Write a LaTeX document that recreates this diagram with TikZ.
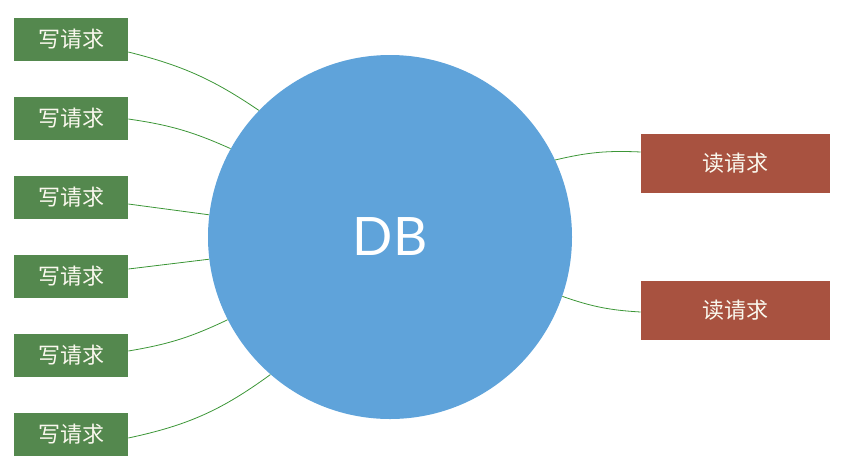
\documentclass[tikz,border=0pt]{standalone}
\usepackage{fontspec}
\setmainfont{Lato}
\newfontfamily\cjk{Noto Sans CJK SC}
\usetikzlibrary{positioning}
\definecolor{writegreen}{RGB}{84,136,78}
\definecolor{readred}{RGB}{168,82,64}
\definecolor{dbblue}{RGB}{95,163,218}
\definecolor{linkgreen}{RGB}{60,150,55}
\definecolor{labelwhite}{RGB}{250,248,238}

\begin{document}
\begin{tikzpicture}[x=1pt,y=-1pt,
    semithick,
    writebox/.style={rectangle,fill=writegreen,inner sep=0pt,
    minimum width=114pt,minimum height=43pt,text=labelwhite,font=\cjk\fontsize{22}{22}\selectfont},
    readbox/.style={rectangle,fill=readred,inner sep=0pt,
    minimum width=189pt,minimum height=59pt,text=labelwhite,font=\cjk\fontsize{22}{22}\selectfont},
    link/.style={draw=linkgreen,line width=0.8pt}
    ]
\useasboundingbox (0,0) rectangle (846,467);

\node[circle,fill=dbblue,inner sep=0pt,minimum size=364pt,text=white,
  font=\fontsize{53}{53}\selectfont] (DB) at (390,237) {DB};

\node[writebox] (W1) at (71,39.5) {写请求};
\node[writebox] (W2) at (71,118.5) {写请求};
\node[writebox] (W3) at (71,197.5) {写请求};
\node[writebox] (W4) at (71,276) {写请求};
\node[writebox] (W5) at (71,355.5) {写请求};
\node[writebox] (W6) at (71,434.5) {写请求};

\node[readbox] (R1) at (735.5,163.5) {读请求};
\node[readbox] (R2) at (735.5,310.5) {读请求};

\draw[link] ([yshift=-12.5pt]W1.east) to[bend left=10] (DB.136);
\draw[link] ([yshift=-0.5pt]W2.east) to[bend left=8] (DB.151);
\draw[link] ([yshift=-6.5pt]W3.east) -- (DB.173);
\draw[link] ([yshift=7pt]W4.east) -- (DB.187);
\draw[link] ([yshift=4.5pt]W5.east) to[bend right=8] (DB.207);
\draw[link] ([yshift=-3.5pt]W6.east) to[bend right=12] (DB.229);
\draw[link] (DB.25) to[bend left=8] ([yshift=11.5pt]R1.west);
\draw[link] (DB.-19) to[bend right=8] ([yshift=-1.5pt]R2.west);
\end{tikzpicture}
\end{document}
